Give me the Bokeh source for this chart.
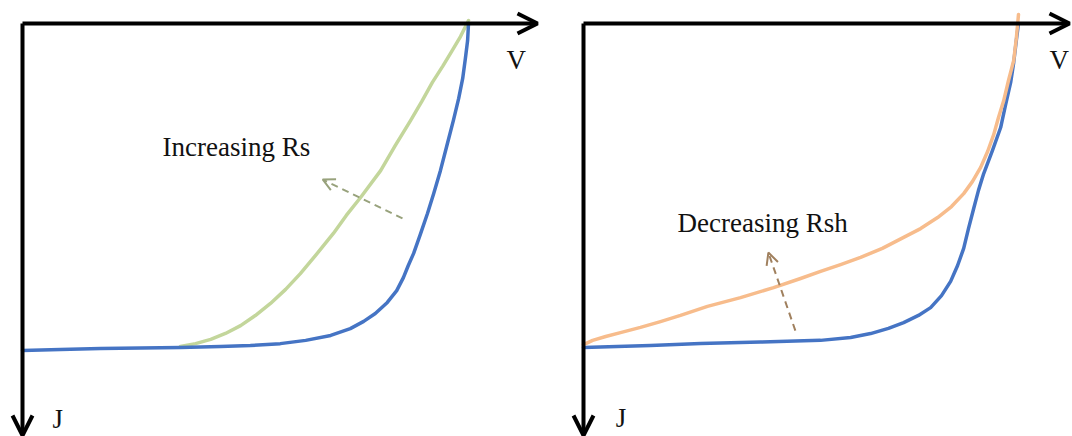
from bokeh.plotting import figure
from bokeh.layouts import row
from bokeh.models import Range1d, Arrow, OpenHead
from bokeh.core.properties import value
from bokeh.embed import file_html
from bokeh.resources import INLINE

# ---- J-V curves, voltage normalised to Voc and current density to Jsc ----
# Left panel: effect of series resistance
rs_ref_v = [0.0, 0.085, 0.175, 0.265, 0.354, 0.444, 0.511, 0.578, 0.635, 0.691,
            0.735, 0.765, 0.791, 0.818, 0.839, 0.854, 0.865, 0.877, 0.892, 0.908,
            0.922, 0.937, 0.951, 0.966, 0.978, 0.987, 0.993, 0.998, 1.0]
rs_ref_j = [1.0, 0.997, 0.994, 0.992, 0.991, 0.988, 0.985, 0.979, 0.969, 0.954,
            0.933, 0.911, 0.887, 0.853, 0.817, 0.777, 0.740, 0.703, 0.645, 0.581,
            0.520, 0.450, 0.376, 0.297, 0.229, 0.168, 0.107, 0.052, 0.0]

rs_high_v = [0.354, 0.388, 0.422, 0.455, 0.489, 0.522, 0.556, 0.590, 0.623,
             0.659, 0.697, 0.726, 0.758, 0.803, 0.836, 0.870, 0.895, 0.919,
             0.942, 0.962, 0.982, 1.0]
rs_high_j = [0.988, 0.979, 0.966, 0.948, 0.924, 0.893, 0.856, 0.813, 0.765,
             0.706, 0.642, 0.587, 0.532, 0.450, 0.373, 0.297, 0.239, 0.180,
             0.131, 0.086, 0.040, -0.009]

# Right panel: effect of shunt resistance
rsh_ref_v = [0.0, 0.154, 0.269, 0.407, 0.545, 0.614, 0.660, 0.701, 0.736, 0.770,
             0.798, 0.823, 0.844, 0.860, 0.874, 0.885, 0.897, 0.908, 0.920,
             0.940, 0.959, 0.970, 0.982, 0.989, 0.995, 1.0]
rsh_ref_j = [1.0, 0.994, 0.988, 0.983, 0.978, 0.969, 0.957, 0.941, 0.923, 0.901,
             0.877, 0.840, 0.796, 0.747, 0.694, 0.633, 0.571, 0.515, 0.463,
             0.392, 0.321, 0.253, 0.182, 0.120, 0.052, 0.0]

rsh_low_v = [0.0, 0.021, 0.051, 0.085, 0.131, 0.177, 0.223, 0.285, 0.361, 0.437,
             0.499, 0.545, 0.591, 0.637, 0.687, 0.736, 0.775, 0.814, 0.846,
             0.874, 0.894, 0.913, 0.929, 0.943, 0.954, 0.966, 0.977, 0.989,
             0.995, 1.0]
rsh_low_j = [0.991, 0.978, 0.966, 0.954, 0.938, 0.920, 0.901, 0.873, 0.846, 0.815,
             0.787, 0.765, 0.744, 0.722, 0.694, 0.660, 0.633, 0.599, 0.565,
             0.525, 0.488, 0.444, 0.395, 0.343, 0.290, 0.238, 0.176, 0.114,
             0.046, -0.028]

BLUE = "#4574c4"
GREEN = "#c3d69b"
ORANGE = "#f7bc8c"
SERIF = value("Liberation Serif")
H = 436


def panel(width, x0, xs, y0, ys, x_tip):
    """Blank panel whose data origin sits at pixel (x0, y0); J grows downward."""
    p = figure(width=width, height=H, output_backend="svg", toolbar_location=None,
               x_axis_type=None, y_axis_type=None, min_border=0,
               x_range=Range1d(-x0 / xs, (width - x0) / xs),
               y_range=Range1d((H - y0) / ys, -y0 / ys))
    p.grid.visible = False
    p.outline_line_color = None
    p.background_fill_color = "white"
    p.border_fill_color = "white"
    # V axis (to the right) and J axis (downward)
    p.add_layout(Arrow(x_start=0, y_start=0, x_end=x_tip, y_end=0,
                       line_width=4, line_color="black",
                       end=OpenHead(size=20, line_width=4, line_color="black")))
    p.add_layout(Arrow(x_start=0, y_start=0, x_end=0, y_end=(435 - y0) / ys,
                       line_width=4, line_color="black",
                       end=OpenHead(size=20, line_width=4, line_color="black")))
    return p


def curve(p, v, j, color):
    p.line(v, j, line_color=color, line_width=3.5, line_join="round",
           line_cap="round")


def label(p, x, y, txt):
    p.text(x=[x], y=[y], text=[txt], text_font=SERIF, text_font_size="27px",
           text_color="#111111", text_align="left", text_baseline="alphabetic")


# ---- left panel ----
p1 = panel(545, 22, 446, 23, 327, (537 - 22) / 446)
curve(p1, rs_high_v, rs_high_j, GREEN)
curve(p1, rs_ref_v, rs_ref_j, BLUE)
p1.add_layout(Arrow(x_start=0.852, y_start=0.596, x_end=0.673, y_end=0.477,
                    line_width=2, line_color="#98a27c", line_dash="7 5",
                    end=OpenHead(size=12, line_width=2, line_color="#98a27c")))
label(p1, 0.314, 0.379, "Increasing Rs")
label(p1, 1.085, 0.113, "V")
label(p1, 0.067, 1.208, "J")

# ---- right panel ----
p2 = panel(527, 38, 435, 23, 324, (1069 - 583) / 435)
curve(p2, rsh_ref_v, rsh_ref_j, BLUE)
curve(p2, rsh_low_v, rsh_low_j, ORANGE)
p2.add_layout(Arrow(x_start=0.487, y_start=0.948, x_end=0.425, y_end=0.707,
                    line_width=2, line_color="#a0805e", line_dash="7 5",
                    end=OpenHead(size=12, line_width=2, line_color="#a0805e")))
label(p2, 0.216, 0.617, "Decreasing Rsh")
label(p2, 1.071, 0.114, "V")
label(p2, 0.074, 1.219, "J")

layout = row(p1, p2)
open("out.html", "w").write(file_html(layout, INLINE))
